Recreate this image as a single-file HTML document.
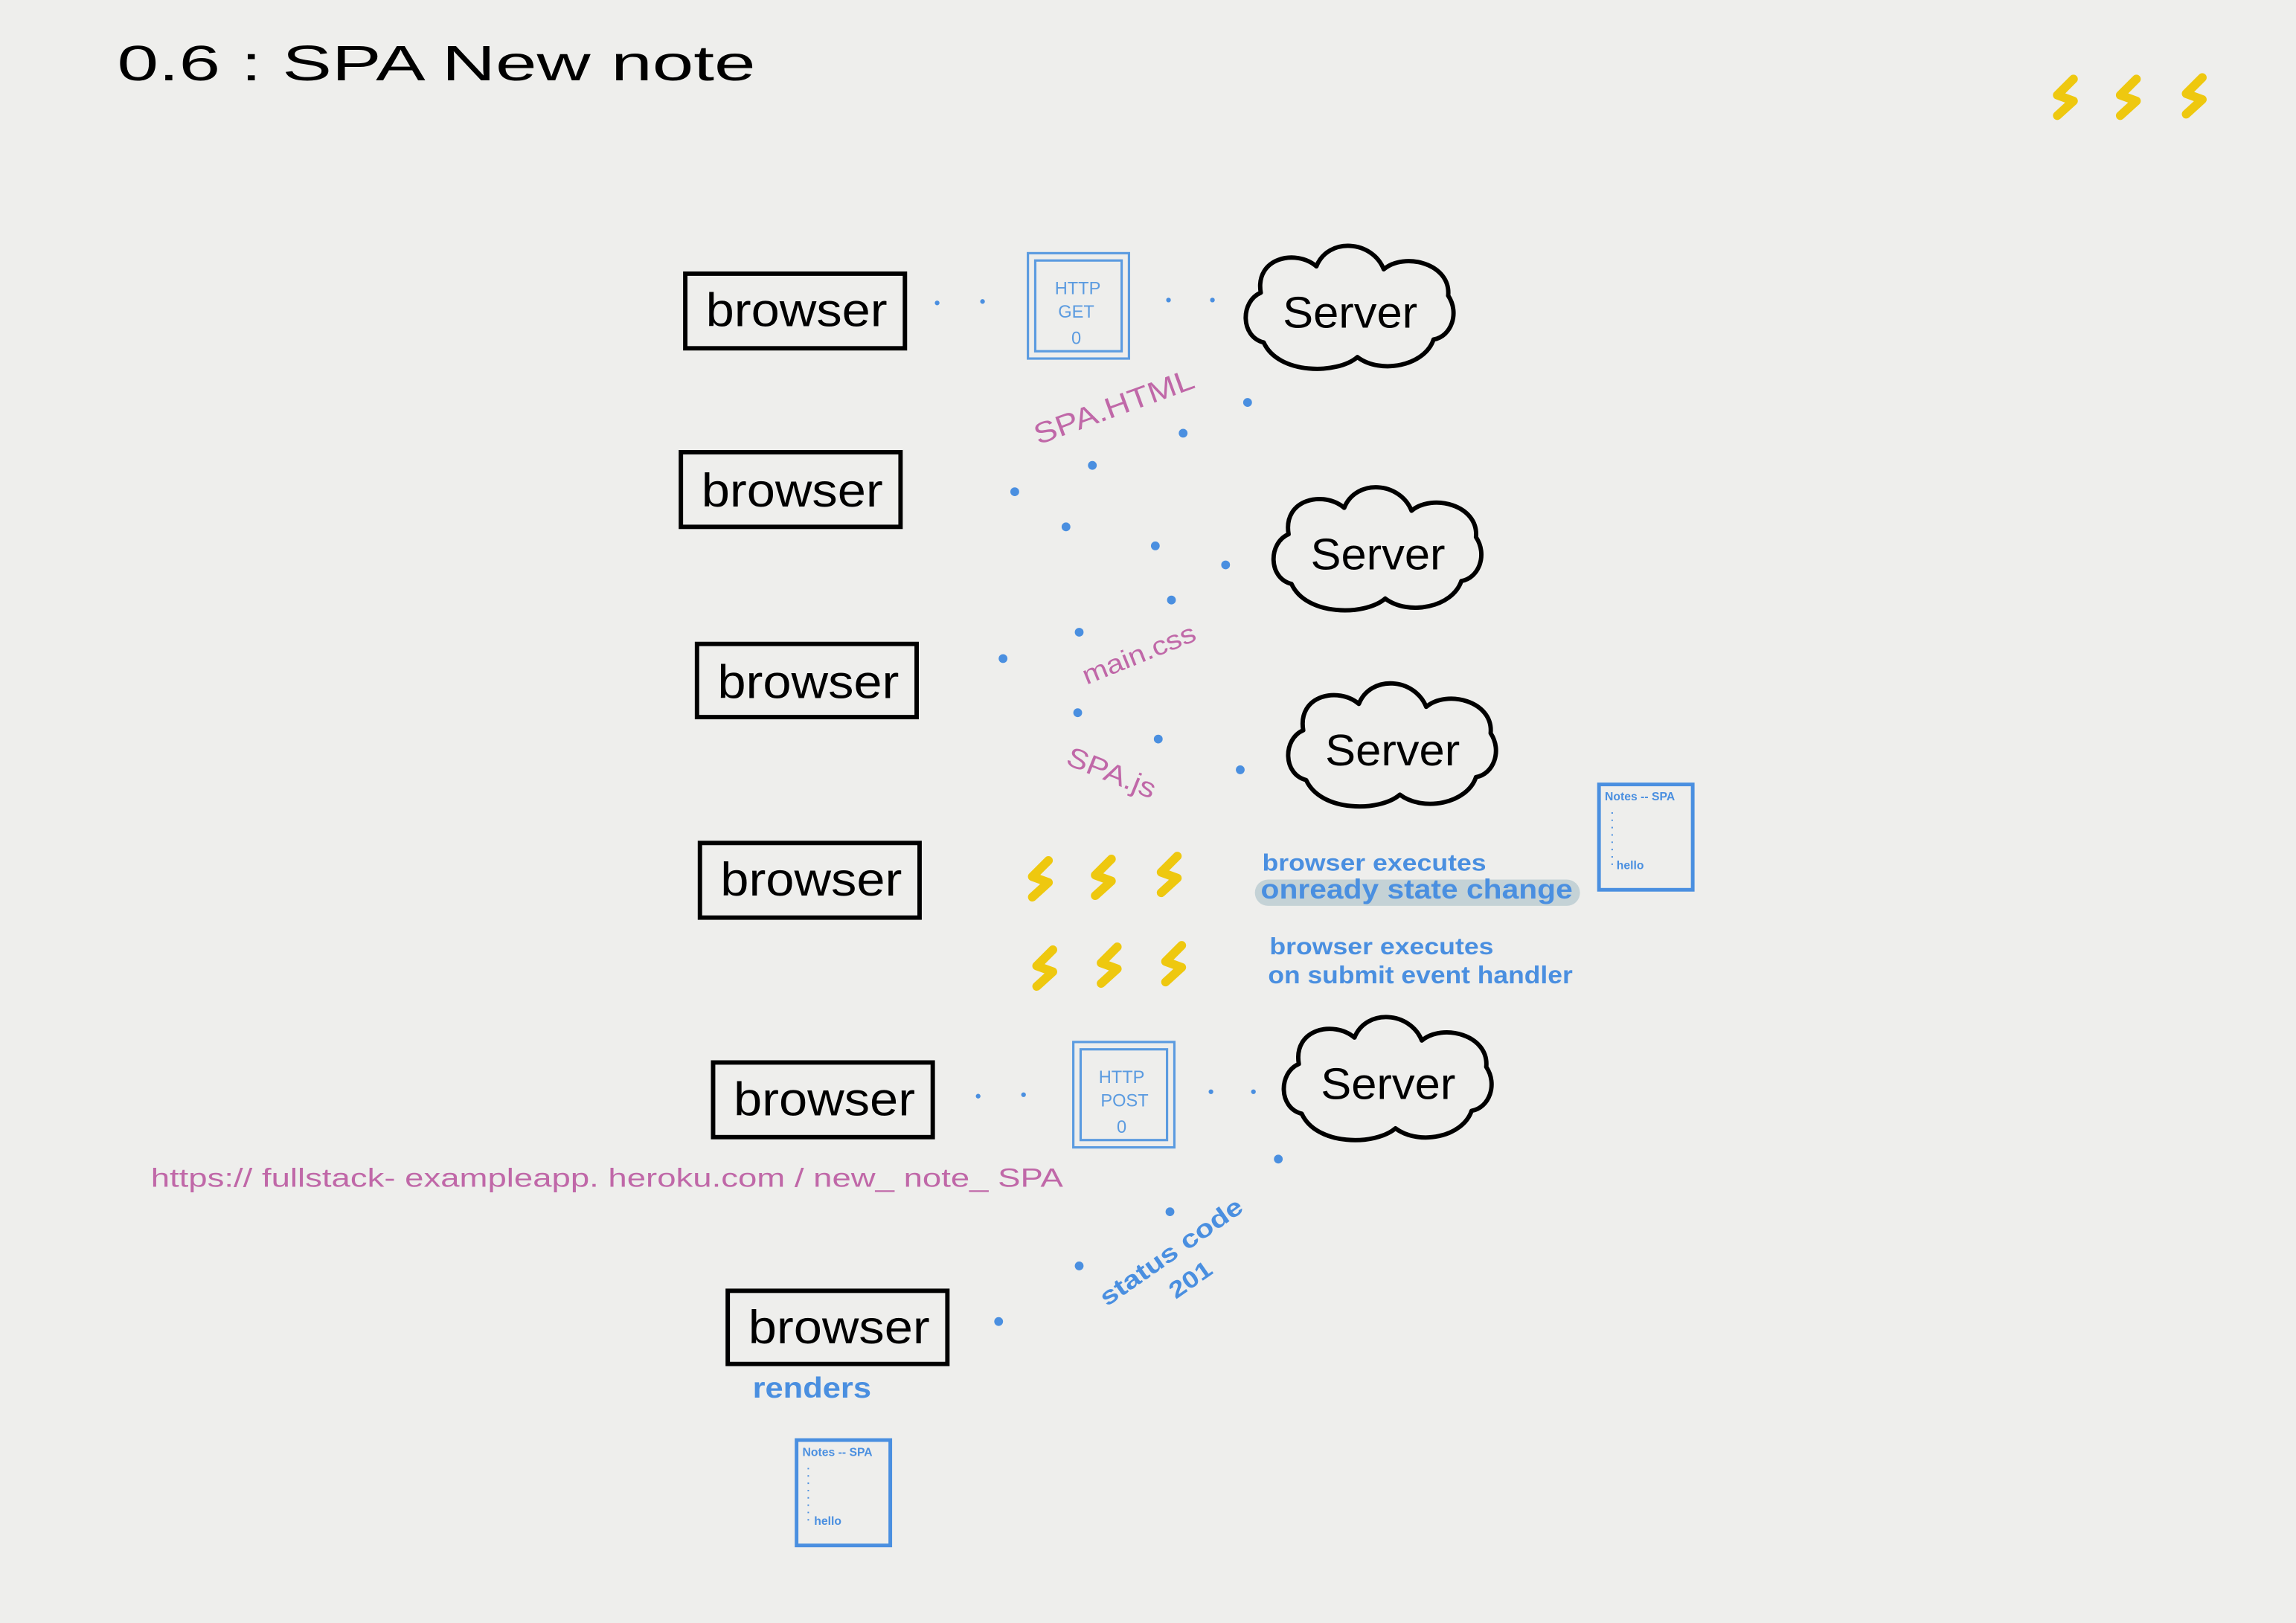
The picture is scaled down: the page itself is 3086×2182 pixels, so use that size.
<!DOCTYPE html>
<html><head><meta charset="utf-8"><style>
html,body{margin:0;padding:0;background:#eeeeec;}
svg{display:block;}
text{font-family:"Liberation Sans",sans-serif;}
</style></head><body>
<svg width="3086" height="2182" viewBox="0 0 1568 1109" preserveAspectRatio="none" xmlns="http://www.w3.org/2000/svg">
<defs>
<path id="cloud" d="M-58,22 C-74,18 -74,-6 -60,-12 C-64,-36 -36,-42 -22,-30 C-14,-50 16,-48 24,-28 C38,-40 70,-32 68,-10 C76,2 70,18 58,20 C52,38 22,44 6,32 C-8,44 -48,44 -58,22 Z" fill="none" stroke="#000" stroke-width="3" stroke-linejoin="round"/>
<polyline id="bolt" points="6,-12 -5,-1 6,3 -5,13" fill="none" stroke="#eec80f" stroke-width="6" stroke-linejoin="round" stroke-linecap="round"/>
</defs>
<rect width="1568" height="1109" fill="#eeeeec"/>
<text x="80" y="55" font-size="34" fill="#000" textLength="436" lengthAdjust="spacingAndGlyphs">0.6 : SPA New note</text>
<use href="#bolt" x="1410" y="66"/><use href="#bolt" x="1453" y="66"/><use href="#bolt" x="1498" y="65"/>

<g fill="none" stroke="#000" stroke-width="3">
<rect x="468" y="187" width="150" height="51"/>
<rect x="465" y="309" width="150" height="51"/>
<rect x="476" y="440" width="150" height="50"/>
<rect x="478" y="576" width="150" height="51"/>
<rect x="487" y="726" width="150" height="51"/>
<rect x="497" y="882" width="150" height="50"/>
</g>
<g font-size="32" fill="#000">
<text x="482" y="223" textLength="124" lengthAdjust="spacingAndGlyphs">browser</text>
<text x="479" y="346" textLength="124" lengthAdjust="spacingAndGlyphs">browser</text>
<text x="490" y="477" textLength="124" lengthAdjust="spacingAndGlyphs">browser</text>
<text x="492" y="612" textLength="124" lengthAdjust="spacingAndGlyphs">browser</text>
<text x="501" y="762" textLength="124" lengthAdjust="spacingAndGlyphs">browser</text>
<text x="511" y="918" textLength="124" lengthAdjust="spacingAndGlyphs">browser</text>
</g>

<use href="#cloud" x="921" y="212"/>
<use href="#cloud" x="940" y="377"/>
<use href="#cloud" x="950" y="511"/>
<use href="#cloud" x="947" y="739"/>
<g font-size="30" fill="#000">
<text x="876" y="224" textLength="92" lengthAdjust="spacingAndGlyphs">Server</text>
<text x="895" y="389" textLength="92" lengthAdjust="spacingAndGlyphs">Server</text>
<text x="905" y="523" textLength="92" lengthAdjust="spacingAndGlyphs">Server</text>
<text x="902" y="751" textLength="92" lengthAdjust="spacingAndGlyphs">Server</text>
</g>

<g fill="none" stroke="#5b9be0" stroke-width="1.6">
<rect x="702" y="173" width="69" height="72"/><rect x="707" y="178" width="59" height="62"/>
<rect x="733" y="712" width="69" height="72"/><rect x="738" y="717" width="59" height="62"/>
</g>
<g font-size="12" fill="#5b9be0" text-anchor="middle">
<text x="736" y="201">HTTP</text><text x="735" y="217">GET</text><text x="735" y="235">0</text>
<text x="766" y="740">HTTP</text><text x="768" y="756">POST</text><text x="766" y="774">0</text>
</g>

<g fill="#4a8fe0">
<circle cx="640" cy="207" r="1.6"/><circle cx="671" cy="206" r="1.6"/><circle cx="798" cy="205" r="1.6"/><circle cx="828" cy="205" r="1.6"/>
<circle cx="852" cy="275" r="3"/><circle cx="808" cy="296" r="3"/><circle cx="746" cy="318" r="3"/><circle cx="693" cy="336" r="3"/>
<circle cx="728" cy="360" r="3"/><circle cx="789" cy="373" r="3"/><circle cx="837" cy="386" r="3"/>
<circle cx="800" cy="410" r="3"/><circle cx="737" cy="432" r="3"/><circle cx="685" cy="450" r="3"/>
<circle cx="736" cy="487" r="3"/><circle cx="791" cy="505" r="3"/><circle cx="847" cy="526" r="3"/>
<circle cx="668" cy="749" r="1.6"/><circle cx="699" cy="748" r="1.6"/><circle cx="827" cy="746" r="1.6"/><circle cx="856" cy="746" r="1.6"/>
<circle cx="873" cy="792" r="3"/><circle cx="799" cy="828" r="3"/><circle cx="737" cy="865" r="3"/><circle cx="682" cy="903" r="3"/>
</g>

<g fill="#c068a8">
<text x="0" y="0" font-size="20" transform="translate(709,304) rotate(-20)" textLength="115" lengthAdjust="spacingAndGlyphs">SPA.HTML</text>
<text x="0" y="0" font-size="18" transform="translate(742,468) rotate(-22)" textLength="82" lengthAdjust="spacingAndGlyphs">main.css</text>
<text x="0" y="0" font-size="19" transform="translate(727,522) rotate(22)" textLength="64" lengthAdjust="spacingAndGlyphs">SPA.js</text>
<text x="103" y="811" font-size="18" textLength="623" lengthAdjust="spacingAndGlyphs">https:// fullstack- exampleapp. heroku.com / new_ note_ SPA</text>
</g>

<use href="#bolt" x="710" y="600"/><use href="#bolt" x="753" y="599"/><use href="#bolt" x="798" y="597"/>
<use href="#bolt" x="713" y="661"/><use href="#bolt" x="757" y="659"/><use href="#bolt" x="801" y="658"/>

<rect x="857" y="601" width="222" height="18" rx="9" fill="#c4d2d6"/>
<g fill="#4a8fe0" font-weight="bold">
<text x="862" y="595" font-size="16" textLength="153" lengthAdjust="spacingAndGlyphs">browser executes</text>
<text x="861" y="614" font-size="19" textLength="213" lengthAdjust="spacingAndGlyphs">onready state change</text>
<text x="867" y="652" font-size="16" textLength="153" lengthAdjust="spacingAndGlyphs">browser executes</text>
<text x="866" y="672" font-size="17" textLength="208" lengthAdjust="spacingAndGlyphs">on submit event handler</text>
<text x="514" y="955" font-size="20" textLength="81" lengthAdjust="spacingAndGlyphs">renders</text>
<text x="0" y="0" font-size="17" transform="translate(756,893) rotate(-35)" textLength="115" lengthAdjust="spacingAndGlyphs">status code</text>
<text x="0" y="0" font-size="16" transform="translate(803,888) rotate(-35)" textLength="32" lengthAdjust="spacingAndGlyphs">201</text>
</g>

<g fill="none" stroke="#4a8fe0" stroke-width="2.5">
<rect x="1092" y="536" width="64" height="72"/>
<rect x="544" y="984" width="64" height="72"/>
</g>
<g fill="#4a8fe0" font-size="8" font-weight="bold">
<text x="1096" y="547">Notes -- SPA</text>
<text x="1104" y="594">hello</text>
<text x="548" y="995">Notes -- SPA</text>
<text x="556" y="1042">hello</text>
</g>
<g stroke="#4a8fe0" stroke-width="1" stroke-dasharray="1,4">
<line x1="1101" y1="555" x2="1101" y2="592"/>
<line x1="552" y1="1003" x2="552" y2="1040"/>
</g>
</svg>
</body></html>
